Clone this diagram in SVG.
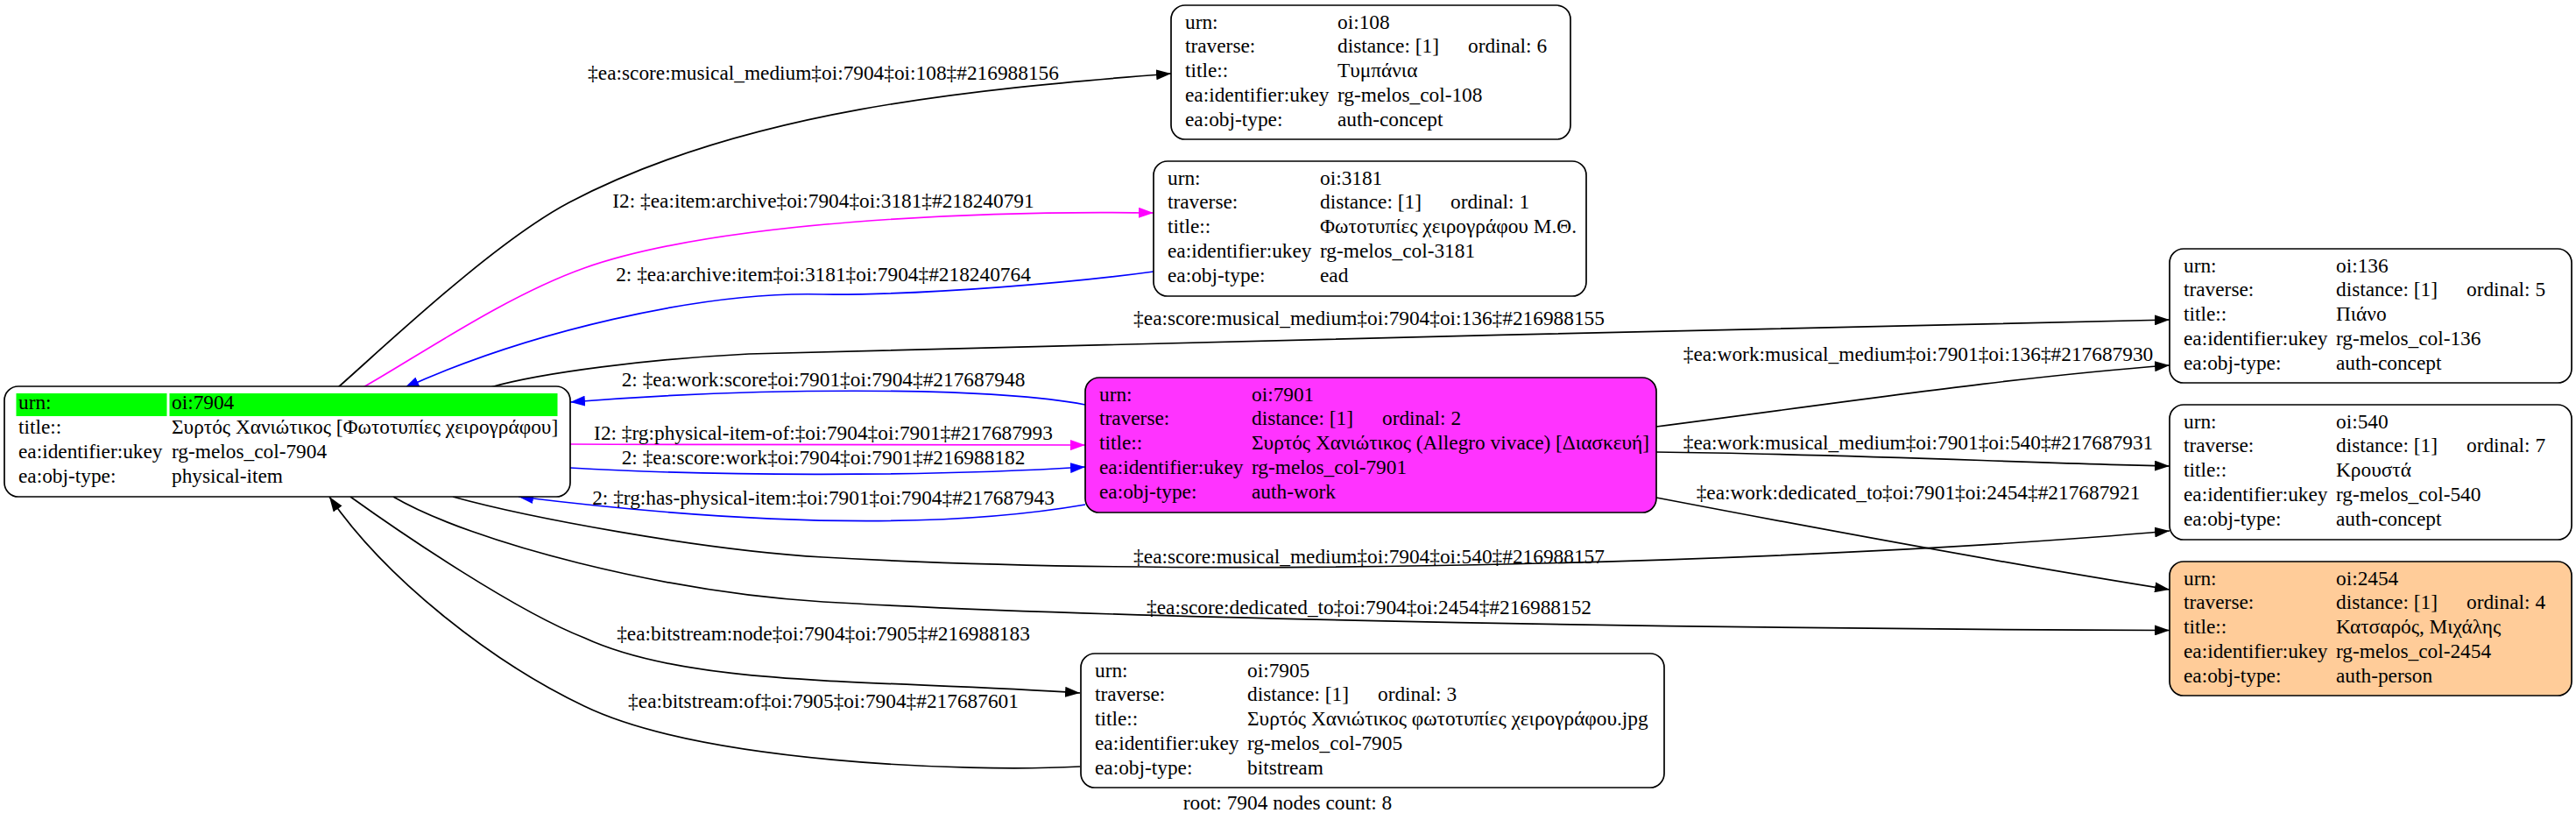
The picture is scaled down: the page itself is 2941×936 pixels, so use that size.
<svg xmlns="http://www.w3.org/2000/svg" width="2941" height="936" viewBox="0 0 2941 936">
<style>
text { font-family: "Liberation Serif", "Times New Roman", serif; font-size: 23.33px; fill: #000; }
.lbl { text-anchor: middle; }
.box { stroke: #000; stroke-width: 1.7; fill: #fff; }
.work { fill: #ff33ff; }
.person { fill: #ffcc99; }
.hl { fill: #00ff00; }
.e { fill: none; stroke-width: 1.7; }
.k { stroke: #000; marker-end: url(#ak); }
.m { stroke: #ff00ff; marker-end: url(#am); }
.b { stroke: #0000ff; marker-end: url(#ab); }
</style>
<defs>
<marker id="ak" markerUnits="userSpaceOnUse" markerWidth="18" markerHeight="12" refX="17" refY="6" orient="auto"><path d="M0,0 L17,6 L0,12 Z" fill="#000"/></marker>
<marker id="am" markerUnits="userSpaceOnUse" markerWidth="18" markerHeight="12" refX="17" refY="6" orient="auto"><path d="M0,0 L17,6 L0,12 Z" fill="#ff00ff"/></marker>
<marker id="ab" markerUnits="userSpaceOnUse" markerWidth="18" markerHeight="12" refX="17" refY="6" orient="auto"><path d="M0,0 L17,6 L0,12 Z" fill="#0000ff"/></marker>
</defs>
<rect width="2941" height="936" fill="#fff"/>

<g id="connectors">
<path class="e k" d="M385,443 C445,390 565,276 650,231 C850,126 1107,102 1337,84"/>
<text class="lbl" x="940" y="91">‡ea:score:musical_medium‡oi:7904‡oi:108‡#216988156</text>
<path class="e m" d="M413,443 C480,405 577,338 667,306 C817,253 1117,240 1317,243"/>
<text class="lbl" x="940" y="237">I2: ‡ea:item:archive‡oi:7904‡oi:3181‡#218240791</text>
<path class="e b" d="M1317,310 C1230,322 1060,337 940,336 C800,332 600,380 461.5,443"/>
<text class="lbl" x="940" y="321">2: ‡ea:archive:item‡oi:3181‡oi:7904‡#218240764</text>
<path class="e k" d="M560,442 C620,425 740,410 855,404 C1300,392 2000,375 2477,365"/>
<text class="lbl" x="1563" y="371">‡ea:score:musical_medium‡oi:7904‡oi:136‡#216988155</text>
<path class="e b" d="M1239,462 C1120,440 850,443 651,459"/>
<text class="lbl" x="940" y="441">2: ‡ea:work:score‡oi:7901‡oi:7904‡#217687948</text>
<path class="e m" d="M651,507 C850,508 1050,509 1239,508"/>
<text class="lbl" x="940" y="502">I2: ‡rg:physical-item-of:‡oi:7904‡oi:7901‡#217687993</text>
<path class="e b" d="M651,534 C800,543 1050,545 1239,533"/>
<text class="lbl" x="940" y="530">2: ‡ea:score:work‡oi:7904‡oi:7901‡#216988182</text>
<path class="e b" d="M1239,576 C1100,600 900,605 592,567"/>
<text class="lbl" x="940" y="576">2: ‡rg:has-physical-item:‡oi:7901‡oi:7904‡#217687943</text>
<path class="e k" d="M517,567 C600,590 800,628 940,636 C1400,662 2100,640 2477,606"/>
<text class="lbl" x="1563" y="643">‡ea:score:musical_medium‡oi:7904‡oi:540‡#216988157</text>
<path class="e k" d="M449,567 C540,620 760,676 940,687 C1300,708 2000,718 2477,719.5"/>
<text class="lbl" x="1563" y="701">‡ea:score:dedicated_to‡oi:7904‡oi:2454‡#216988152</text>
<path class="e k" d="M400,567 C460,610 590,698 667,728 C790,785 1000,775 1233,791"/>
<text class="lbl" x="940" y="731">‡ea:bitstream:node‡oi:7904‡oi:7905‡#216988183</text>
<path class="e k" d="M1233,875 C1100,882 800,870 667,806 C560,755 440,660 376,567"/>
<text class="lbl" x="940" y="808">‡ea:bitstream:of‡oi:7905‡oi:7904‡#217687601</text>
<path class="e k" d="M1891,487 C2100,460 2300,430 2477,417"/>
<text class="lbl" x="2190" y="412">‡ea:work:musical_medium‡oi:7901‡oi:136‡#217687930</text>
<path class="e k" d="M1891,516 C2100,518 2300,528 2477,532"/>
<text class="lbl" x="2190" y="513">‡ea:work:musical_medium‡oi:7901‡oi:540‡#217687931</text>
<path class="e k" d="M1891,568 C2100,608 2300,645 2477,673"/>
<text class="lbl" x="2190" y="570">‡ea:work:dedicated_to‡oi:7901‡oi:2454‡#217687921</text>
</g>

<g id="n7904" transform="translate(5,441)">
<rect class="box" x="0" y="0" width="646" height="126" rx="16"/>
<rect class="hl" x="13.5" y="8" width="172" height="26"/>
<rect class="hl" x="188.5" y="8" width="443" height="26"/>
<text x="16" y="26.3">urn:</text><text x="191" y="26.3">oi:7904</text>
<text x="16" y="54.1">title::</text><text x="191" y="54.1">Συρτός Χανιώτικος [Φωτοτυπίες χειρογράφου]</text>
<text x="16" y="81.9">ea:identifier:ukey</text><text x="191" y="81.9">rg-melos_col-7904</text>
<text x="16" y="109.7">ea:obj-type:</text><text x="191" y="109.7">physical-item</text>
</g>

<g id="n108" transform="translate(1337,6)">
<rect class="box" x="0" y="0" width="456" height="153" rx="16"/>
<text x="16" y="26.5">urn:</text><text x="190" y="26.5">oi:108</text>
<text x="16" y="54.3">traverse:</text><text x="190" y="54.3">distance: [1]</text><text x="339" y="54.3">ordinal: 6</text>
<text x="16" y="82.1">title::</text><text x="190" y="82.1">Τυμπάνια</text>
<text x="16" y="110">ea:identifier:ukey</text><text x="190" y="110">rg-melos_col-108</text>
<text x="16" y="137.8">ea:obj-type:</text><text x="190" y="137.8">auth-concept</text>
</g>

<g id="n3181" transform="translate(1317,184)">
<rect class="box" x="0" y="0" width="494" height="154" rx="16"/>
<text x="16" y="26.5">urn:</text><text x="190" y="26.5">oi:3181</text>
<text x="16" y="54.3">traverse:</text><text x="190" y="54.3">distance: [1]</text><text x="339" y="54.3">ordinal: 1</text>
<text x="16" y="82.1">title::</text><text x="190" y="82.1">Φωτοτυπίες χειρογράφου Μ.Θ.</text>
<text x="16" y="110">ea:identifier:ukey</text><text x="190" y="110">rg-melos_col-3181</text>
<text x="16" y="137.8">ea:obj-type:</text><text x="190" y="137.8">ead</text>
</g>

<g id="n7901" transform="translate(1239,431)">
<rect class="box work" x="0" y="0" width="652" height="154" rx="16"/>
<text x="16" y="26.5">urn:</text><text x="190" y="26.5">oi:7901</text>
<text x="16" y="54.3">traverse:</text><text x="190" y="54.3">distance: [1]</text><text x="339" y="54.3">ordinal: 2</text>
<text x="16" y="82.1">title::</text><text x="190" y="82.1">Συρτός Χανιώτικος (Allegro vivace) [Διασκευή]</text>
<text x="16" y="110">ea:identifier:ukey</text><text x="190" y="110">rg-melos_col-7901</text>
<text x="16" y="137.8">ea:obj-type:</text><text x="190" y="137.8">auth-work</text>
</g>

<g id="n7905" transform="translate(1234,746)">
<rect class="box" x="0" y="0" width="666" height="153" rx="16"/>
<text x="16" y="26.5">urn:</text><text x="190" y="26.5">oi:7905</text>
<text x="16" y="54.3">traverse:</text><text x="190" y="54.3">distance: [1]</text><text x="339" y="54.3">ordinal: 3</text>
<text x="16" y="82.1">title::</text><text x="190" y="82.1">Συρτός Χανιώτικος φωτοτυπίες χειρογράφου.jpg</text>
<text x="16" y="110">ea:identifier:ukey</text><text x="190" y="110">rg-melos_col-7905</text>
<text x="16" y="137.8">ea:obj-type:</text><text x="190" y="137.8">bitstream</text>
</g>

<g id="n136" transform="translate(2477,284)">
<rect class="box" x="0" y="0" width="459" height="153" rx="16"/>
<text x="16" y="26.5">urn:</text><text x="190" y="26.5">oi:136</text>
<text x="16" y="54.3">traverse:</text><text x="190" y="54.3">distance: [1]</text><text x="339" y="54.3">ordinal: 5</text>
<text x="16" y="82.1">title::</text><text x="190" y="82.1">Πιάνο</text>
<text x="16" y="110">ea:identifier:ukey</text><text x="190" y="110">rg-melos_col-136</text>
<text x="16" y="137.8">ea:obj-type:</text><text x="190" y="137.8">auth-concept</text>
</g>

<g id="n540" transform="translate(2477,462)">
<rect class="box" x="0" y="0" width="459" height="154" rx="16"/>
<text x="16" y="26.5">urn:</text><text x="190" y="26.5">oi:540</text>
<text x="16" y="54.3">traverse:</text><text x="190" y="54.3">distance: [1]</text><text x="339" y="54.3">ordinal: 7</text>
<text x="16" y="82.1">title::</text><text x="190" y="82.1">Κρουστά</text>
<text x="16" y="110">ea:identifier:ukey</text><text x="190" y="110">rg-melos_col-540</text>
<text x="16" y="137.8">ea:obj-type:</text><text x="190" y="137.8">auth-concept</text>
</g>

<g id="n2454" transform="translate(2477,641)">
<rect class="box person" x="0" y="0" width="459" height="153" rx="16"/>
<text x="16" y="26.5">urn:</text><text x="190" y="26.5">oi:2454</text>
<text x="16" y="54.3">traverse:</text><text x="190" y="54.3">distance: [1]</text><text x="339" y="54.3">ordinal: 4</text>
<text x="16" y="82.1">title::</text><text x="190" y="82.1">Κατσαρός, Μιχάλης</text>
<text x="16" y="110">ea:identifier:ukey</text><text x="190" y="110">rg-melos_col-2454</text>
<text x="16" y="137.8">ea:obj-type:</text><text x="190" y="137.8">auth-person</text>
</g>

<text class="lbl" x="1470" y="924">root: 7904 nodes count: 8</text>
</svg>
